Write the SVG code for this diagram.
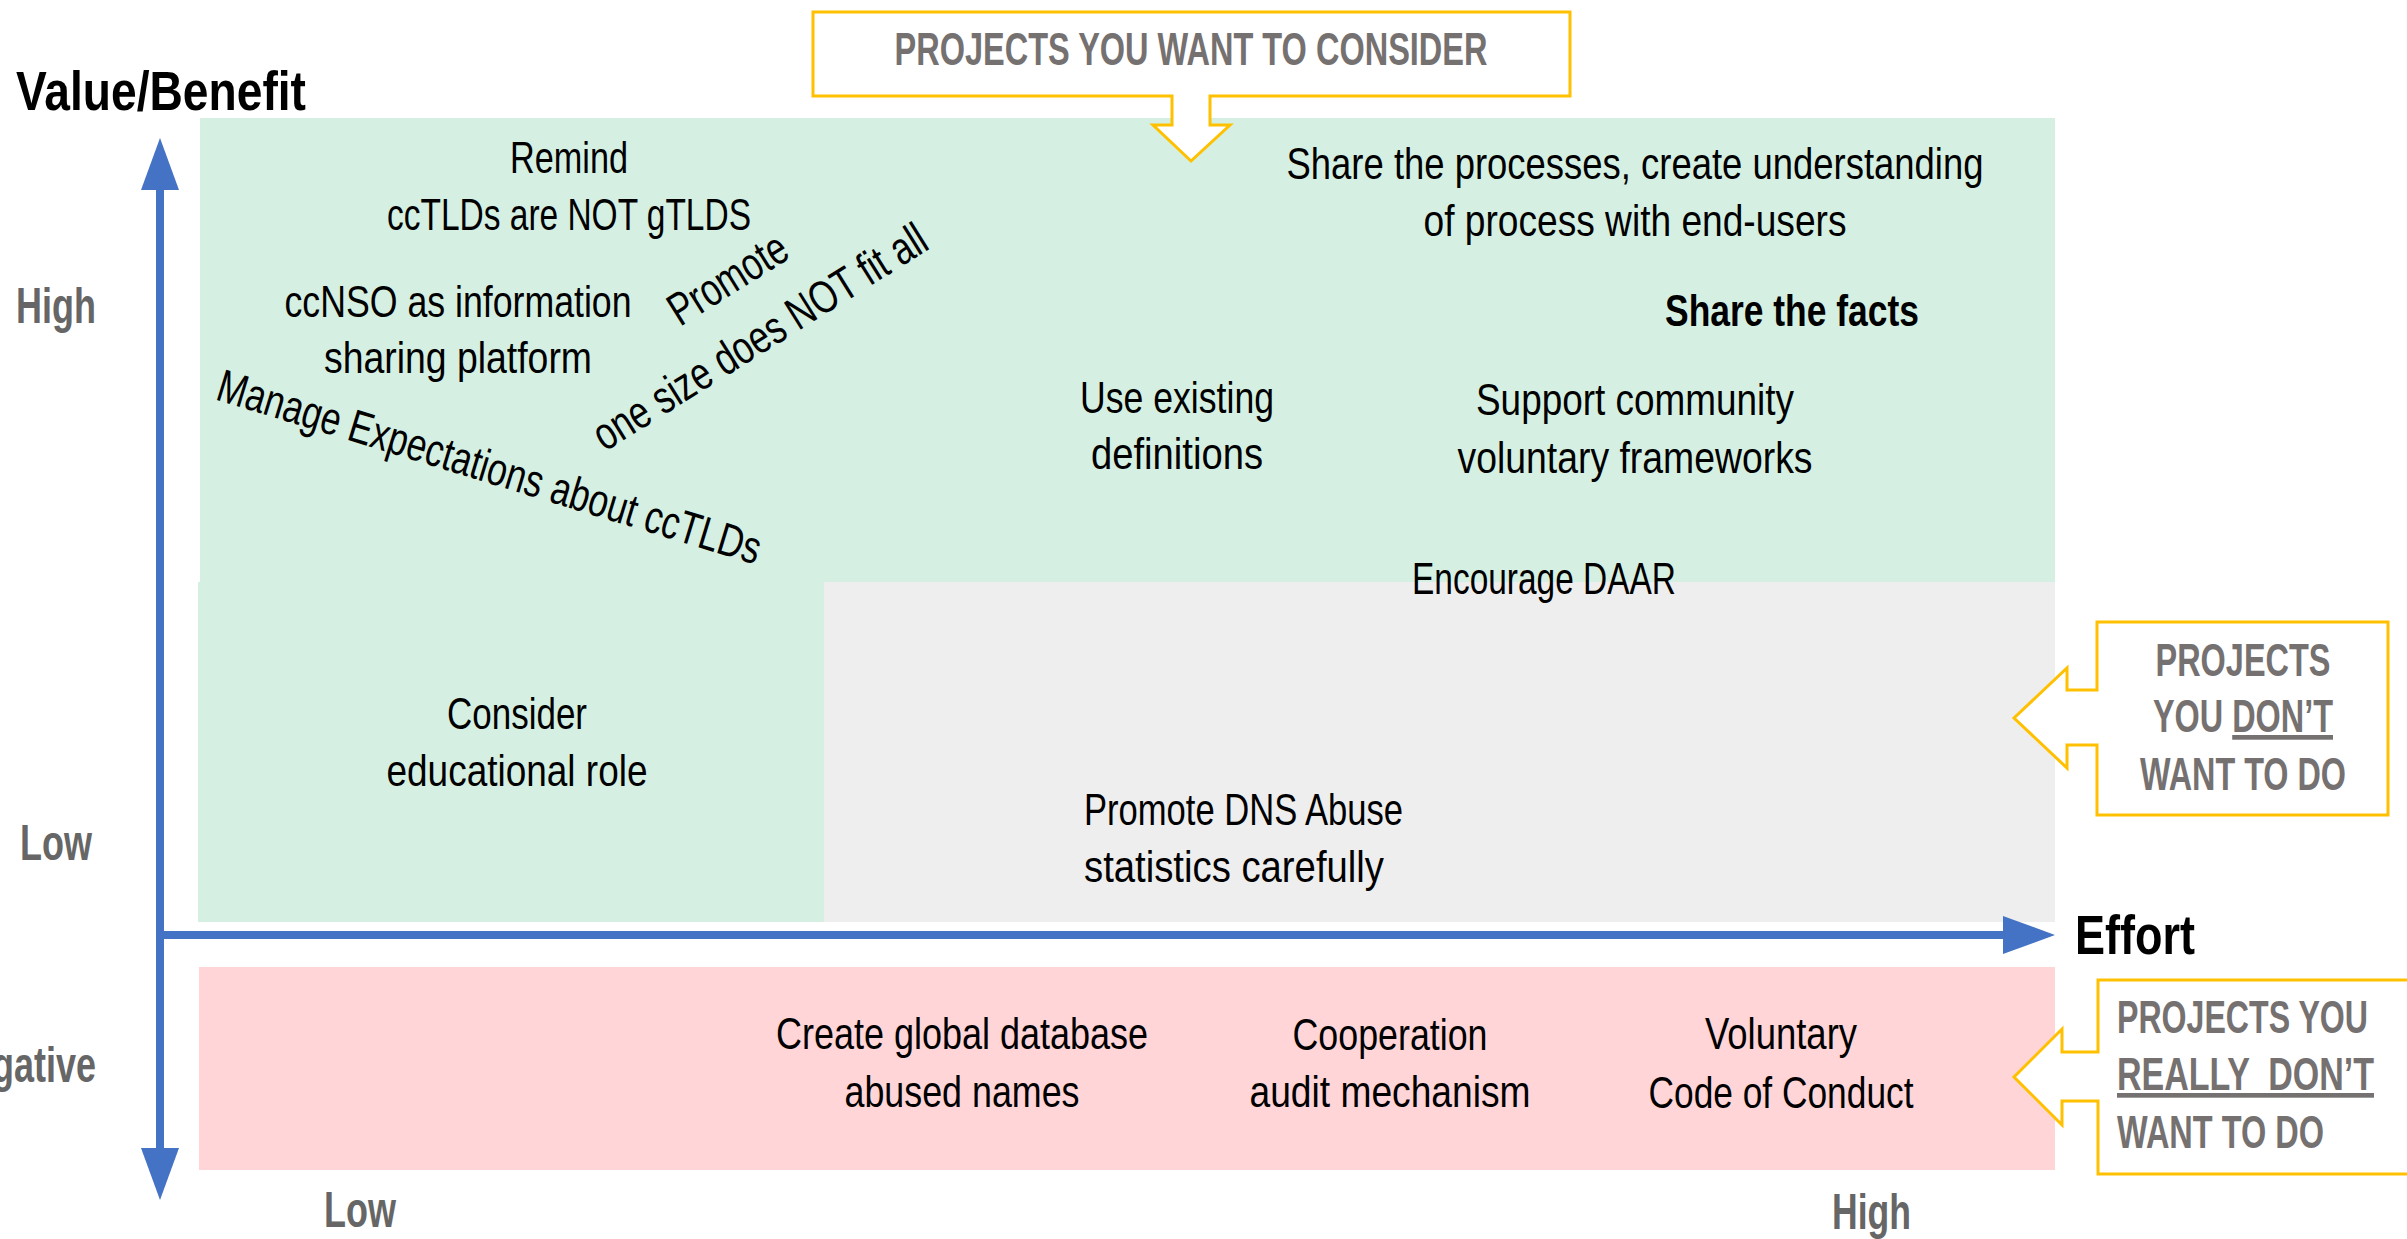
<svg xmlns="http://www.w3.org/2000/svg" width="2407" height="1239" viewBox="0 0 2407 1239">
<style>
.t{font-family:"Liberation Sans Narrow","Liberation Sans",Arial,sans-serif;font-size:45px;fill:#000;}
.m{text-anchor:middle;}
.b{font-weight:bold;}
.r{font-size:46px;}
.ax{font-family:"Liberation Sans Narrow","Liberation Sans",Arial,sans-serif;font-weight:bold;font-size:56px;fill:#000;}
.lv{font-family:"Liberation Sans Narrow","Liberation Sans",Arial,sans-serif;font-weight:bold;font-size:50px;fill:#666666;}
.co{font-family:"Liberation Sans Narrow","Liberation Sans",Arial,sans-serif;font-weight:bold;font-size:47px;fill:#767171;}
.call{fill:#ffffff;stroke:#FFC000;stroke-width:3;}
.axis{stroke:#4472C4;stroke-width:8;fill:none;}
</style>
<defs>
<marker id="ah" markerUnits="userSpaceOnUse" markerWidth="54" markerHeight="40" refX="0" refY="20" orient="auto-start-reverse" viewBox="0 0 54 40">
<path d="M0,1 L52,20 L0,39 Z" fill="#4472C4"/>
</marker>
</defs>
<rect width="2407" height="1239" fill="#ffffff"/>
<g id="regions">
<path id="green" d="M200,118 H2055 V582 H824 V922 H198 V582 H200 Z" fill="#D5F0E2"/>
<rect id="gray" x="824" y="582" width="1231" height="340" fill="#EEEEEE"/>
<rect id="pink" x="199" y="967" width="1856" height="203" fill="#FFD5D7"/>
</g>
<g id="connectors">
<line class="axis" x1="160" y1="190" x2="160" y2="1148" marker-start="url(#ah)" marker-end="url(#ah)"/>
<line class="axis" x1="156" y1="935" x2="2003" y2="935" marker-end="url(#ah)"/>
</g>
<g id="axis-labels">
<text class="ax" x="16" y="110" textLength="290" lengthAdjust="spacingAndGlyphs">Value/Benefit</text>
<text class="lv" x="16" y="323" textLength="80" lengthAdjust="spacingAndGlyphs">High</text>
<text class="lv" x="20" y="860" textLength="72" lengthAdjust="spacingAndGlyphs">Low</text>
<text class="lv" x="96" y="1082" text-anchor="end" textLength="150" lengthAdjust="spacingAndGlyphs">Negative</text>
<text class="lv" x="324" y="1227" textLength="72" lengthAdjust="spacingAndGlyphs">Low</text>
<text class="lv" x="1832" y="1229" textLength="79" lengthAdjust="spacingAndGlyphs">High</text>
<text class="ax" x="2075" y="954" textLength="120" lengthAdjust="spacingAndGlyphs">Effort</text>
</g>
<g id="callout-consider">
<path class="call" d="M813,12 H1570 V96 H1210 V125 H1230 L1191,161 L1153,125 H1172 V96 H813 Z"/>
<text class="co m" x="1191" y="65" font-size="46" textLength="593" lengthAdjust="spacingAndGlyphs">PROJECTS YOU WANT TO CONSIDER</text>
</g>
<g id="callout-dont">
<path class="call" d="M2097,622 H2388 V815 H2097 V745 H2067 V768 L2014,718 L2067,668 V690 H2097 Z"/>
<text class="co m" x="2243" y="676" textLength="175" lengthAdjust="spacingAndGlyphs">PROJECTS</text>
<text class="co m" x="2243" y="732" textLength="180" lengthAdjust="spacingAndGlyphs">YOU <tspan text-decoration="underline">DON’T</tspan></text>
<text class="co m" x="2243" y="790" textLength="206" lengthAdjust="spacingAndGlyphs">WANT TO DO</text>
</g>
<g id="callout-really">
<path class="call" d="M2098,980 H2420 V1174 H2098 V1101 H2062 V1125 L2014,1077 L2062,1029 V1052 H2098 Z"/>
<text class="co" x="2117" y="1033" textLength="251" lengthAdjust="spacingAndGlyphs">PROJECTS YOU</text>
<text class="co" x="2117" y="1090" textLength="257" lengthAdjust="spacingAndGlyphs" text-decoration="underline" style="white-space:pre">REALLY  DON’T</text>
<text class="co" x="2117" y="1148" textLength="207" lengthAdjust="spacingAndGlyphs">WANT TO DO</text>
</g>
<g id="n-remind">
<text class="t m" x="569" y="173" textLength="118" lengthAdjust="spacingAndGlyphs">Remind</text>
<text class="t m" x="569" y="230" textLength="364" lengthAdjust="spacingAndGlyphs">ccTLDs are NOT gTLDS</text>
</g>
<g id="n-ccnso">
<text class="t m" x="458" y="317" textLength="347" lengthAdjust="spacingAndGlyphs">ccNSO as information</text>
<text class="t m" x="458" y="373" textLength="268" lengthAdjust="spacingAndGlyphs">sharing platform</text>
</g>
<g id="n-promote-size">
<text class="t m r" transform="translate(736,292) rotate(-32)" textLength="132" lengthAdjust="spacingAndGlyphs">Promote</text>
<text class="t m r" transform="translate(768,350) rotate(-32)" textLength="385" lengthAdjust="spacingAndGlyphs">one size does NOT fit all</text>
</g>
<g id="n-manage">
<text class="t m r" transform="translate(485,482) rotate(17)" textLength="566" lengthAdjust="spacingAndGlyphs">Manage Expectations about ccTLDs</text>
</g>
<g id="n-share-processes">
<text class="t m" x="1635" y="179" textLength="697" lengthAdjust="spacingAndGlyphs">Share the processes, create understanding</text>
<text class="t m" x="1635" y="236" textLength="423" lengthAdjust="spacingAndGlyphs">of process with end-users</text>
</g>
<g id="n-share-facts">
<text class="t m b" x="1792" y="326" textLength="254" lengthAdjust="spacingAndGlyphs">Share the facts</text>
</g>
<g id="n-use-existing">
<text class="t m" x="1177" y="413" textLength="194" lengthAdjust="spacingAndGlyphs">Use existing</text>
<text class="t m" x="1177" y="469" textLength="172" lengthAdjust="spacingAndGlyphs">definitions</text>
</g>
<g id="n-support">
<text class="t m" x="1635" y="415" textLength="318" lengthAdjust="spacingAndGlyphs">Support community</text>
<text class="t m" x="1635" y="473" textLength="355" lengthAdjust="spacingAndGlyphs">voluntary frameworks</text>
</g>
<g id="n-daar">
<text class="t m" x="1544" y="594" textLength="264" lengthAdjust="spacingAndGlyphs">Encourage DAAR</text>
</g>
<g id="n-consider">
<text class="t m" x="517" y="729" textLength="140" lengthAdjust="spacingAndGlyphs">Consider</text>
<text class="t m" x="517" y="786" textLength="261" lengthAdjust="spacingAndGlyphs">educational role</text>
</g>
<g id="n-dns-abuse">
<text class="t" x="1084" y="825" textLength="319" lengthAdjust="spacingAndGlyphs">Promote DNS Abuse</text>
<text class="t" x="1084" y="882" textLength="300" lengthAdjust="spacingAndGlyphs">statistics carefully</text>
</g>
<g id="n-database">
<text class="t m" x="962" y="1049" textLength="372" lengthAdjust="spacingAndGlyphs">Create global database</text>
<text class="t m" x="962" y="1107" textLength="235" lengthAdjust="spacingAndGlyphs">abused names</text>
</g>
<g id="n-cooperation">
<text class="t m" x="1390" y="1050" textLength="195" lengthAdjust="spacingAndGlyphs">Cooperation</text>
<text class="t m" x="1390" y="1107" textLength="281" lengthAdjust="spacingAndGlyphs">audit mechanism</text>
</g>
<g id="n-voluntary">
<text class="t m" x="1781" y="1049" textLength="152" lengthAdjust="spacingAndGlyphs">Voluntary</text>
<text class="t m" x="1781" y="1108" textLength="265" lengthAdjust="spacingAndGlyphs">Code of Conduct</text>
</g>
</svg>
